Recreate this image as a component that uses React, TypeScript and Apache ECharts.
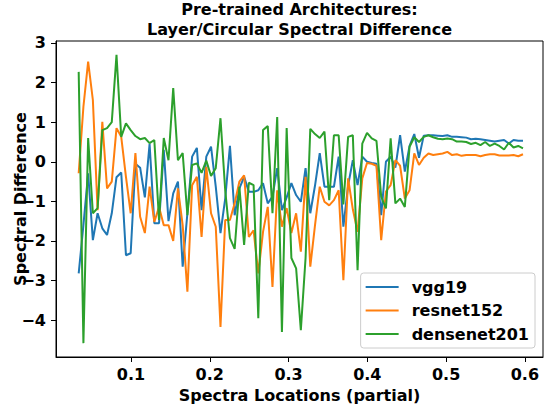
import React, { useEffect, useRef } from 'react';
import * as echarts from 'echarts';

const FONT = '"DejaVu Sans", Verdana, sans-serif';

const seriesNames = ['vgg19', 'resnet152', 'densenet201'];
const seriesColors = ['#1f77b4', '#ff7f0e', '#2ca02c'];

const xTicks = [0.1, 0.2, 0.3, 0.4, 0.5, 0.6];
const yTicks = [-4, -3, -2, -1, 0, 1, 2, 3];

const xValues = [
  0.0336, 0.0396, 0.0456, 0.0516, 0.0576, 0.0636, 0.0696, 0.0756, 0.0816, 0.0876,
  0.0936, 0.0996, 0.1056, 0.1116, 0.1176, 0.1236, 0.1296, 0.1356, 0.1416, 0.1476,
  0.1536, 0.1596, 0.1656, 0.1716, 0.1776, 0.1836, 0.1896, 0.1956, 0.2016, 0.2076,
  0.2136, 0.2196, 0.2256, 0.2316, 0.2376, 0.2436, 0.2496, 0.2556, 0.2616, 0.2676,
  0.2736, 0.2796, 0.2856, 0.2916, 0.2976, 0.3036, 0.3096, 0.3156, 0.3216, 0.3276,
  0.3336, 0.3396, 0.3456, 0.3516, 0.3576, 0.3636, 0.3696, 0.3756, 0.3816, 0.3876,
  0.3936, 0.3996, 0.4056, 0.4116, 0.4176, 0.4236, 0.4296, 0.4356, 0.4416, 0.4476,
  0.4536, 0.4596, 0.4656, 0.4716, 0.4776, 0.4836, 0.4896, 0.4956, 0.5016, 0.5076,
  0.5136, 0.5196, 0.5256, 0.5316, 0.5376, 0.5436, 0.5496, 0.5556, 0.5616, 0.5676,
  0.5736, 0.5796, 0.5856, 0.5916, 0.5976,
];

const vgg19 = [
  -2.82, -1.6, -0.29, -1.98, -1.3, -1.68, -1.85, -1.3, -0.39, -0.27,
  -2.36, -2.31, -0.05, -0.15, -0.9, 0.45, -1.55, -1.55, 0.3, -1.5,
  -0.8, -0.5, -2.65, -1.3, 0.13, 0.35, -1.22, 0.13, 0.38, -0.63,
  -1.8, -0.93, 0.4, -1.35, -0.67, -0.38, -0.76, -0.76, -0.72, -0.54,
  -1.05, -0.88, -0.16, -1.22, -0.9, -0.54, -0.84, -1.01, -0.16, -1.3,
  -0.6, 0.22, -0.63, -0.63, -0.63, 0.13, -1.64, -0.6, 0.04, -0.59,
  0.13, 0.0, -0.03, -0.05, -1.35, 0.0, 0.13, -0.15, 0.67, -0.25,
  0.4, 0.7, 0.1, 0.66, 0.67, 0.67, 0.66, 0.65, 0.67, 0.63,
  0.63, 0.62, 0.61, 0.57, 0.58, 0.57, 0.55, 0.53, 0.51, 0.53,
  0.55, 0.46, 0.55, 0.53, 0.53,
];

const resnet152 = [
  -0.29, 1.39, 2.53, 1.56, -1.22, 1.01, -0.67, -0.5, 0.85, 0.63,
  -0.38, -1.3, 0.22, -1.39, -1.8, -0.63, -1.52, -1.14, -1.6, -1.6,
  -2.0, -0.67, -1.6, -3.28, -0.59, -0.38, -1.9, -0.13, -1.3, -1.64,
  -4.17, -1.47, -1.47, -1.05, -0.5, -0.34, -1.9, -1.73, -2.82, -1.77,
  -1.14, -3.16, -0.72, -1.64, -1.17, -1.8, -1.3, -2.27, -0.38, -2.65,
  -1.6, -0.63, -1.01, -1.1, -0.97, -0.72, -2.99, -0.42, -1.2, -1.77,
  -0.42, -0.03, -0.05, -0.1, -1.98, -0.75, -0.59, 0.04, -0.1, -0.93,
  -0.72, 0.21, -0.08, 0.1, 0.21, 0.17, 0.19, 0.21, 0.25, 0.17,
  0.19, 0.15, 0.17, 0.17, 0.17, 0.14, 0.17, 0.19, 0.19, 0.16,
  0.16, 0.16, 0.17, 0.14, 0.19,
];

const densenet201 = [
  2.27, -4.58, 0.6, -1.3, -1.17, 0.8, 0.85, 1.0, 2.7, 0.63,
  0.97, 0.8, 0.65, 0.57, 0.6, 0.47, 0.55, -1.47, 0.6, 0.04,
  1.86, 0.04, 0.22, -1.35, -0.08, -0.04, -0.28, 0.03, -0.36, -0.16,
  1.1, -0.72, -1.93, -2.2, -0.63, -2.1, -0.53, -0.59, -3.95, 0.8,
  0.9, -1.3, 1.13, -4.3, 0.85, -2.43, -2.69, -4.25, -2.43, 0.83,
  0.7, 0.6, 0.76, -0.97, 0.67, 0.67, -1.08, 0.63, 0.67, -2.74,
  0.46, 0.73, 0.59, 0.53, -0.88, -1.18, 0.59, -1.05, -0.93, -1.14,
  0.38, 0.62, 0.5, 0.63, 0.67, 0.62, 0.58, 0.57, 0.59, 0.57,
  0.51, 0.51, 0.5, 0.45, 0.48, 0.42, 0.5, 0.4, 0.46, 0.4,
  0.31, 0.48, 0.36, 0.4, 0.34,
];

const seriesValues = [vgg19, resnet152, densenet201];

const X_MIN = 0.0048;
const X_MAX = 0.623;
const Y_MIN = -4.93;
const Y_MAX = 3.05;

const labelStyle = { fontFamily: FONT, fontSize: 16, fontWeight: 'bold', color: '#000' };

const fmtNum = (v: number) => (v < 0 ? '\u2212' + String(Math.abs(v)) : String(v));

export default function App() {
  const ref = useRef<HTMLDivElement>(null);
  useEffect(() => {
    document.body.style.margin = '0';
    const chart = echarts.init(ref.current as HTMLDivElement, null, { renderer: 'svg' });
    chart.setOption({
      animation: false,
      backgroundColor: '#ffffff',
      textStyle: { fontFamily: FONT },
      title: {
        text: 'Pre-trained Architectures:\nLayer/Circular Spectral Difference',
        left: 299.5,
        top: -1,
        textAlign: 'center',
        padding: 0,
        textStyle: { ...labelStyle, lineHeight: 20 },
      },
      grid: {
        left: 56,
        right: 3,
        top: 41,
        bottom: 49,
        containLabel: false,
        outerBoundsMode: 'none',
        show: true,
        borderColor: '#000',
        borderWidth: 1,
        backgroundColor: 'transparent',
      },
      legend: {
        data: seriesNames,
        orient: 'vertical',
        right: 11,
        bottom: 58,
        icon: 'rect',
        itemWidth: 33,
        itemHeight: 2,
        itemGap: 7.5,
        padding: [6, 6, 6, 5],
        backgroundColor: 'rgba(255,255,255,0.8)',
        borderColor: '#cccccc',
        borderWidth: 1,
        borderRadius: 3,
        textStyle: { ...labelStyle, padding: [0, 0, 0, 8] },
      },
      xAxis: {
        type: 'value',
        min: X_MIN,
        max: X_MAX,
        name: 'Spectra Locations (partial)',
        nameLocation: 'middle',
        nameGap: 30,
        nameTextStyle: labelStyle,
        axisLine: { show: true, onZero: false, lineStyle: { color: '#000', width: 1 } },
        axisTick: { show: true, inside: false, length: 5, lineStyle: { color: '#000', width: 1 }, customValues: xTicks },
        axisLabel: { ...labelStyle, margin: 9, customValues: xTicks, formatter: (v: number) => v.toFixed(1) },
        splitLine: { show: false },
      },
      yAxis: {
        type: 'value',
        min: Y_MIN,
        max: Y_MAX,
        name: 'Spectral Difference',
        nameLocation: 'middle',
        nameRotate: 90,
        nameGap: 28,
        nameMoveOverlap: false,
        nameTextStyle: labelStyle,
        axisLine: { show: true, onZero: false, lineStyle: { color: '#000', width: 1 } },
        axisTick: { show: true, inside: false, length: 5, lineStyle: { color: '#000', width: 1 }, customValues: yTicks },
        axisLabel: { ...labelStyle, margin: 10, customValues: yTicks, formatter: (v: number) => fmtNum(v) },
        splitLine: { show: false },
      },
      series: seriesNames.map((name, k) => ({
        name,
        type: 'line',
        data: xValues.map((x, i) => [x, seriesValues[k][i]]),
        symbol: 'none',
        showSymbol: false,
        color: seriesColors[k],
        lineStyle: { color: seriesColors[k], width: 2 },
        z: 2 + k,
      })),
    });
    return () => chart.dispose();
  }, []);
  return <div ref={ref} style={{ position: 'absolute', left: 0, top: 0, width: 546, height: 406 }} />;
}
